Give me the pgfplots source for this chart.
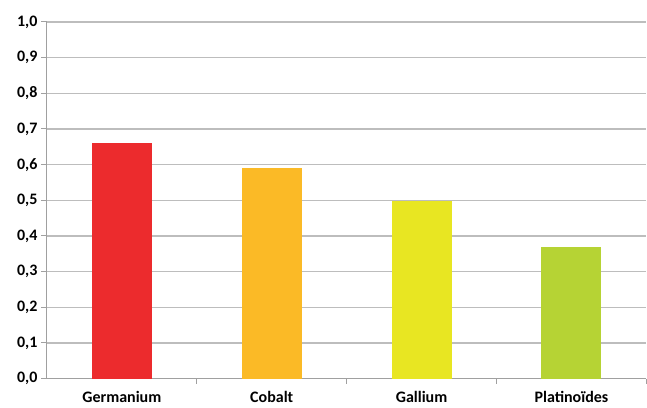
\documentclass[border=0pt]{standalone}
\usepackage{pgfplots}
\pgfplotsset{compat=1.18}
\usepackage{fontspec}
\setmainfont{Carlito}
\definecolor{cGe}{HTML}{EC2B2D}
\definecolor{cCo}{HTML}{FBBA26}
\definecolor{cGa}{HTML}{E8E622}
\definecolor{cPt}{HTML}{B6D334}
\definecolor{gridc}{HTML}{BDBDBD}
\definecolor{axc}{HTML}{A0A0A0}
\begin{document}
\begin{tikzpicture}
\begin{axis}[
  scale only axis,
  width=600pt, height=357pt,
  xmin=-0.5, xmax=3.5,
  ymin=0, ymax=1,
  axis lines*=left,
  axis line style={axc, line width=1pt},
  xtick={0,1,2,3},
  xticklabels={Germanium,Cobalt,Gallium,Platinoïdes},
  major x tick style={draw=none},
  minor xtick={0.5,1.5,2.5,3.5},
  minor x tick style={axc, line width=1pt},
  minor tick length=5pt,
  ytick={0,0.1,...,1.0},
  ymajorgrids,
  grid style={gridc, line width=1.3pt},
  major y tick style={axc, line width=1pt},
  major tick length=6pt,
  tick align=outside,
  /pgf/number format/fixed,
  /pgf/number format/fixed zerofill,
  /pgf/number format/precision=1,
  /pgf/number format/use comma,
  /pgf/number format/assume math mode=true,
  tick label style={font=\fontsize{16}{18}\selectfont\bfseries},
  yticklabel style={xshift=0pt},
  xticklabel style={yshift=-3pt},
  ybar, bar width=0.4, bar shift=0pt,
  clip=false,
]
\addplot[fill=cGe, draw=none] coordinates {(0,0.661)};
\addplot[fill=cCo, draw=none] coordinates {(1,0.591)};
\addplot[fill=cGa, draw=none] coordinates {(2,0.499)};
\addplot[fill=cPt, draw=none] coordinates {(3,0.370)};
\end{axis}
\useasboundingbox (-47pt,-29pt) rectangle (600pt,379pt);
\end{tikzpicture}
\end{document}
